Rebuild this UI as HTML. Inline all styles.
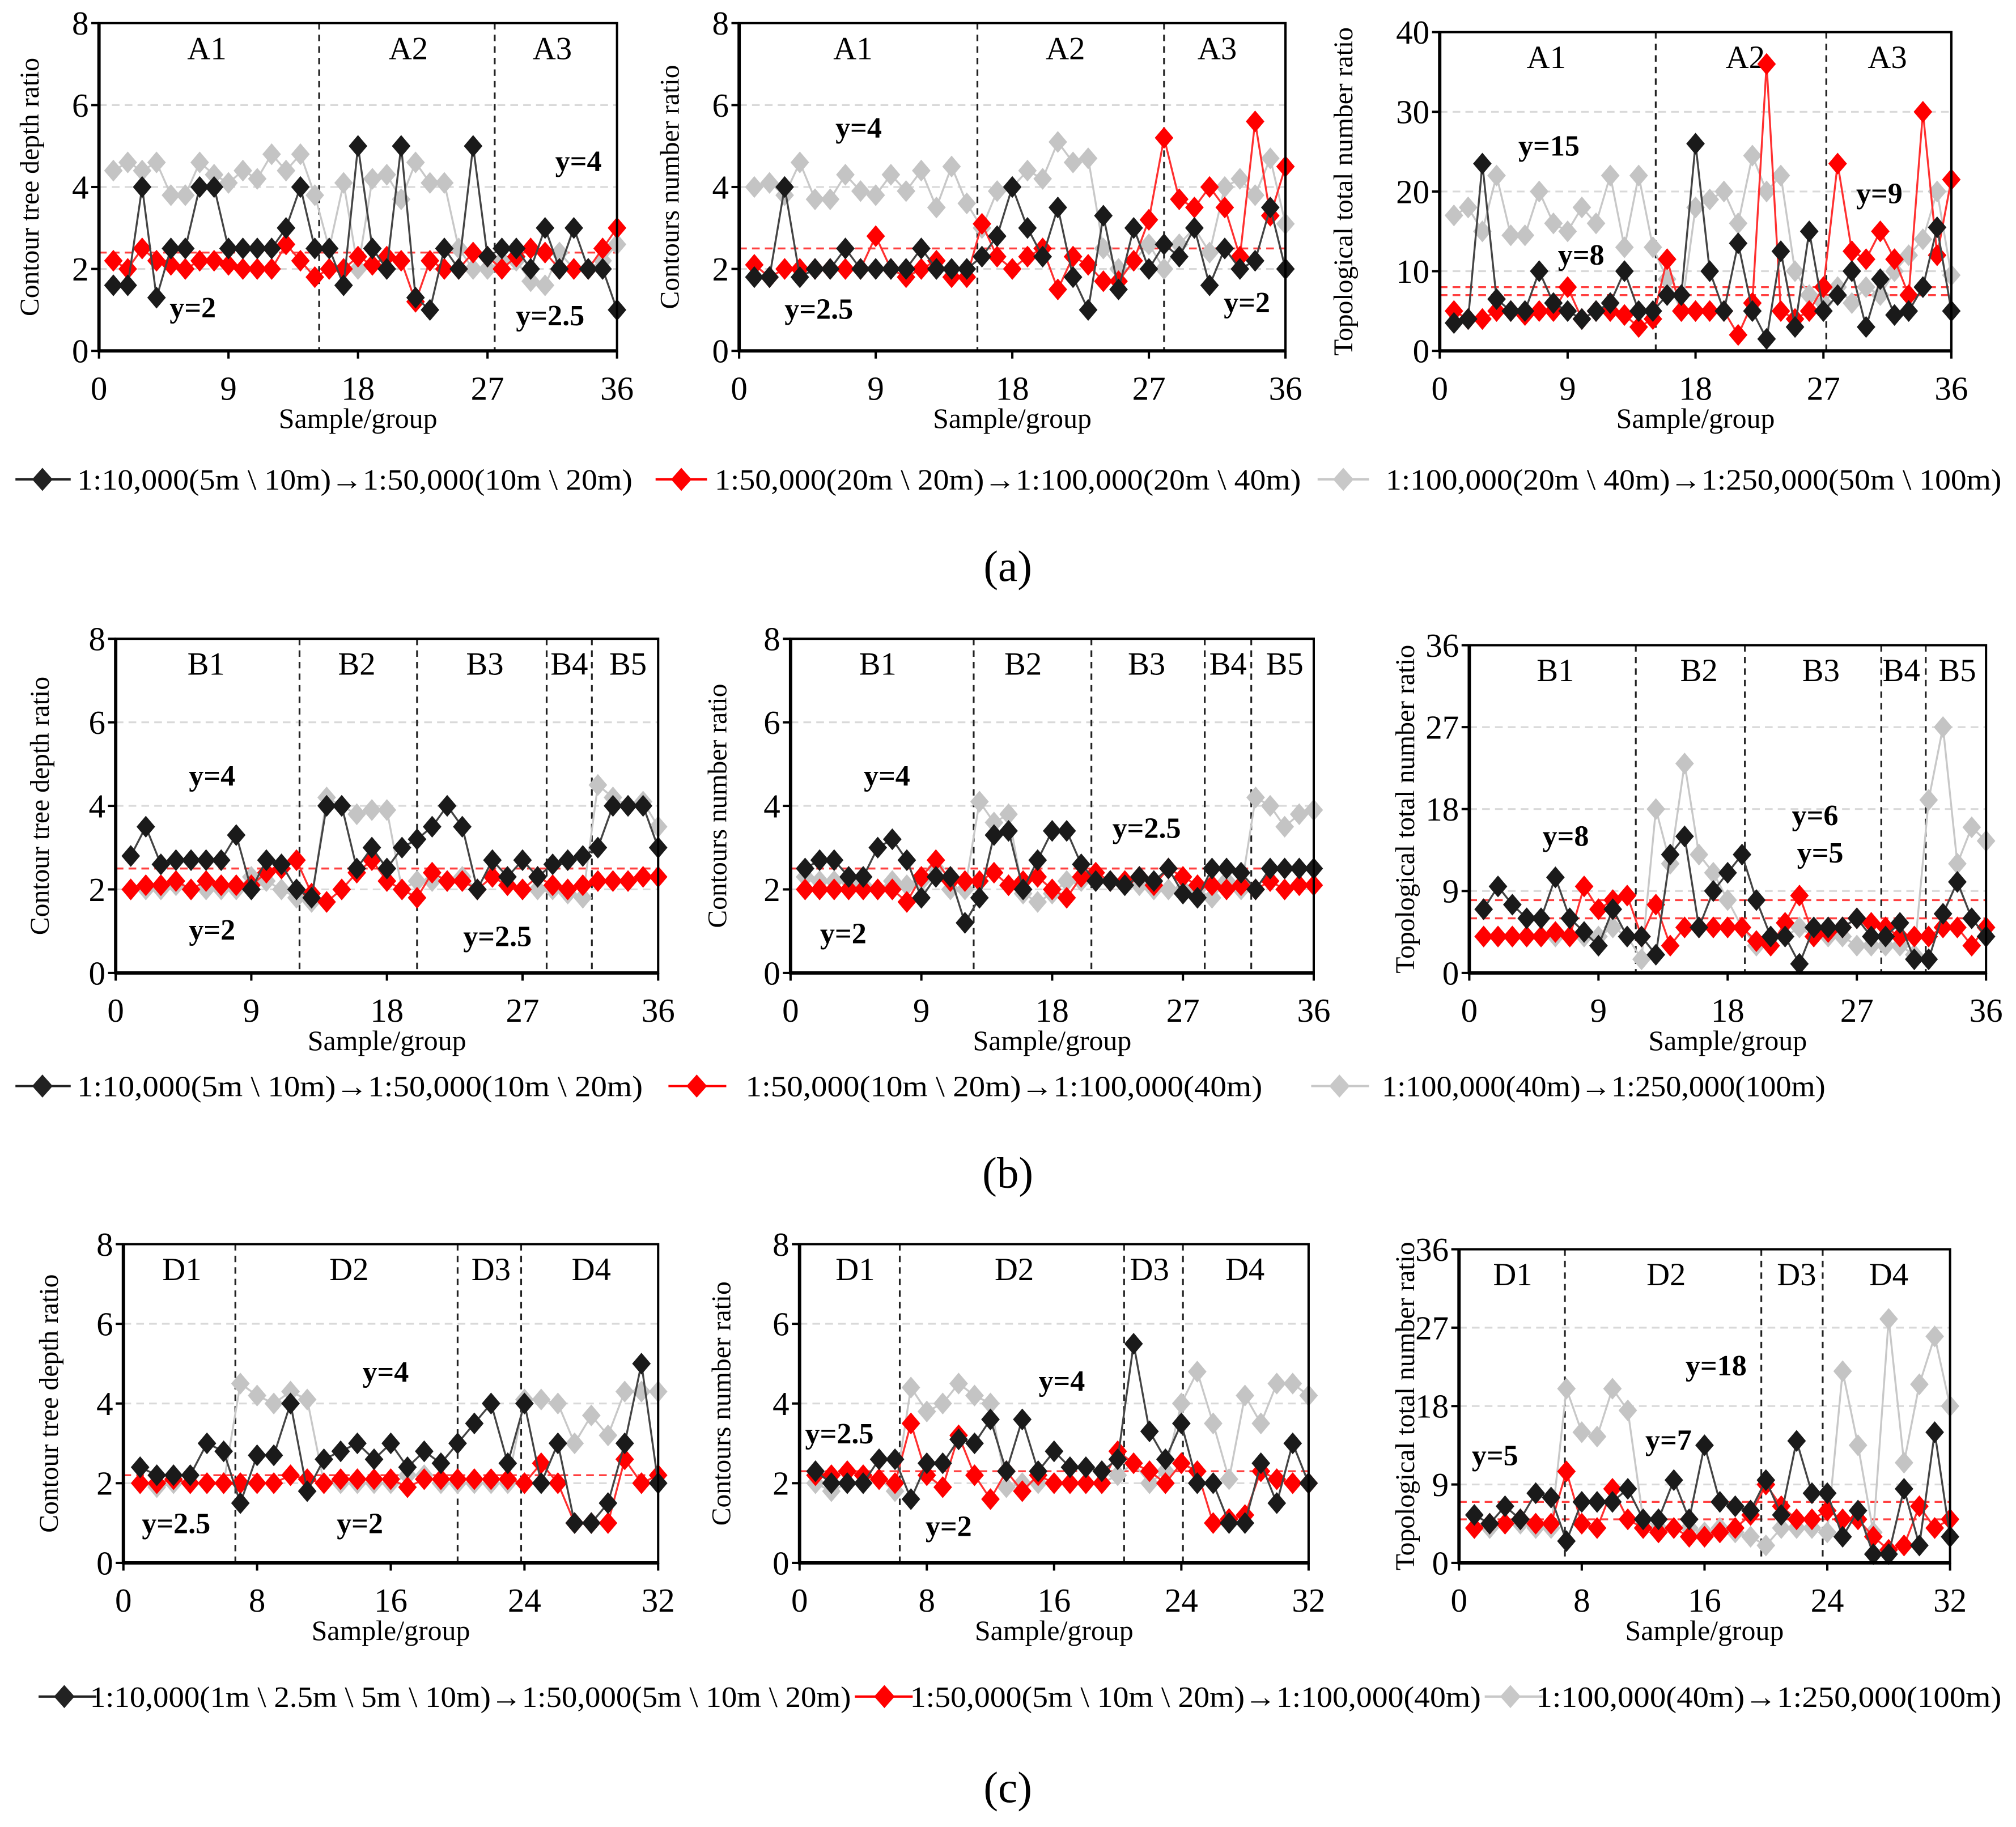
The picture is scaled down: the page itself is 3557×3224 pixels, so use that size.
<!DOCTYPE html>
<html><head><meta charset="utf-8">
<style>
html,body{margin:0;padding:0;background:#fff;}
svg{display:block;}
text{font-family:"Liberation Serif",serif;}
</style></head>
<body>
<svg id="fig" width="3557" height="3224" viewBox="0 0 1568.3 1421.5" preserveAspectRatio="none" xmlns="http://www.w3.org/2000/svg"></svg>
<script>
// ---- data ----
const xA = Array.from({length:36},(_,i)=>i+1);
const xC = Array.from({length:32},(_,i)=>i+1);
const a1Black=[1.6,1.6,4,1.3,2.5,2.5,4,4,2.5,2.5,2.5,2.5,3,4,2.5,2.5,1.6,5,2.5,2,5,1.3,1,2.5,2,5,2.3,2.5,2.5,2,3,2,3,2,2,1];
const a1Red=[2.2,2,2.5,2.2,2.1,2,2.2,2.2,2.1,2,2,2,2.6,2.2,1.8,2,2,2.3,2.1,2.3,2.2,1.2,2.2,2,2,2.4,2.3,2,2.3,2.5,2.4,2,2,2,2.5,3];
const a1Gray=[4.4,4.6,4.4,4.6,3.8,3.8,4.6,4.3,4.1,4.4,4.2,4.8,4.4,4.8,3.8,2.5,4.1,2,4.2,4.3,3.7,4.6,4.1,4.1,2.5,2,2,2.2,2.2,1.7,1.6,2.4,2,2,2.2,2.6];
const a2Black=[1.8,1.8,4,1.8,2,2,2.5,2,2,2,2,2.5,2,2,2,2.3,2.8,4,3,2.3,3.5,1.8,1,3.3,1.5,3,2,2.6,2.3,3,1.6,2.5,2,2.2,3.5,2];
const a2Red=[2.1,1.8,2,2,2,2,2,2,2.8,2,1.8,2,2.2,1.8,1.8,3.1,2.3,2,2.3,2.5,1.5,2.3,2.1,1.7,1.7,2.2,3.2,5.2,3.7,3.5,4,3.5,2.3,5.6,3.3,4.5];
const a2Gray=[4,4.1,3.8,4.6,3.7,3.7,4.3,3.9,3.8,4.3,3.9,4.4,3.5,4.5,3.6,3,3.9,4,4.4,4.2,5.1,4.6,4.7,2.5,2,2.2,2.6,2,2.6,3,2.4,4,4.2,3.8,4.7,3.1];
const a3Black=[3.5,4,23.5,6.5,5,5,10,6,5,4,5,6,10,5,5,7,7,26,10,5,13.5,5,1.5,12.5,3,15,5,7,10,3,9,4.5,5,8,15.5,5];
const a3Red=[5,4,4,5,5,4.5,5,5,8,4,5,5,4.5,3,4,11.5,5,5,5,5,2,6,36,5,4,5,8,23.5,12.5,11.5,15,11.5,7,30,12,21.5];
const a3Gray=[17,18,15,22,14.5,14.5,20,16,15,18,16,22,13,22,13,9,5,18,19,20,16,24.5,20,22,10,7,6,8,6,8,7,10,12,14,20,9.5];
const b1Black=[2.8,3.5,2.6,2.7,2.7,2.7,2.7,3.3,2,2.7,2.6,2,1.8,4,4,2.5,3,2.5,3,3.2,3.5,4,3.5,2,2.7,2.3,2.7,2.3,2.6,2.7,2.8,3,4,4,4,3];
const b1Red=[2,2.1,2.1,2.2,2,2.2,2.1,2.1,2.1,2.4,2.5,2.7,1.9,1.7,2,2.4,2.7,2.2,2,1.8,2.4,2.2,2.2,2,2.3,2.1,2,2.3,2.1,2,2.1,2.2,2.2,2.2,2.3,2.3];
const b1Gray=[2,2,2,2.1,2,2,2,2,2.3,2.2,2,1.8,1.7,4.2,4,3.8,3.9,3.9,2,2.2,2.2,2.2,2.3,2,2.3,2.1,2,2,2,1.9,1.8,4.5,4.2,4,4.1,3.5];
const b2Black=[2.5,2.7,2.7,2.3,2.3,3,3.2,2.7,1.8,2.3,2.3,1.2,1.8,3.3,3.4,2,2.7,3.4,3.4,2.6,2.2,2.2,2.1,2.3,2.2,2.5,1.9,1.8,2.5,2.5,2.4,2,2.5,2.5,2.5,2.5];
const b2Red=[2,2,2,2,2,2,2,1.7,2.3,2.7,2.2,2.2,2.2,2.4,2.1,2.2,2.3,2,1.8,2.3,2.4,2.2,2.2,2.3,2.1,2.5,2.3,2.1,2.1,2,2.1,2,2.2,2,2.1,2.1];
const b2Gray=[2.3,2.2,2.2,2.2,2.1,2,2.2,2.1,2.2,2.5,2,2,4.1,3.6,3.8,1.9,1.7,1.9,2.2,2.2,2.2,2.2,2.2,2.1,2,2,2,2,1.8,2.2,2,4.2,4,3.5,3.8,3.9];
const b3Black=[7,9.5,7.5,6,6,10.5,6,4.5,3,7,4,4,2,13,15,5,9,11,13,8,4,4,1,5,5,5,6,4,4,5.5,1.5,1.5,6.5,10,6,4];
const b3Red=[4,4,4,4,4,4.5,4,9.5,7,8,8.5,4,7.5,3,5,5,5,5,5,3.5,3,5.5,8.5,4,4.5,5,6,5.5,5,4,4,4,5,5,3,5];
const b3Gray=[4,4,4,4,4,4,4,4,4,5,4,1.5,18,12,23,13,11,8,5,3,4,4,5,4,4,4,3,3,3,3,2,19,27,12,16,14.5];
const c1Black=[2.4,2.2,2.2,2.2,3,2.8,1.5,2.7,2.7,4,1.8,2.6,2.8,3,2.6,3,2.4,2.8,2.5,3,3.5,4,2.5,4,2,3,1,1,1.5,3,5,2];
const c1Red=[2,2,2.1,2,2,2,2,2,2,2.2,2.1,2,2.1,2.1,2.1,2.1,1.9,2.1,2.1,2.1,2.1,2.1,2.1,2,2.5,2,1,1,1,2.6,2,2.2];
const c1Gray=[2,1.9,2,2,2,2,4.5,4.2,4,4.3,4.1,2,2,2,2,2,2.2,2.2,2,2,2,2,2,4.1,4.1,4,3,3.7,3.2,4.3,4.3,4.3];
const c2Black=[2.3,2,2,2,2.6,2.6,1.6,2.5,2.5,3.1,3,3.6,2.3,3.6,2.3,2.8,2.4,2.4,2.3,2.6,5.5,3.3,2.6,3.5,2,2,1,1,2.5,1.5,3,2];
const c2Red=[2.2,2.2,2.3,2.2,2.1,2,3.5,2.2,1.9,3.2,2.2,1.6,2.3,1.8,2.2,2,2,2,2,2.8,2.5,2.3,2,2.5,2.3,1,1.1,1.2,2.3,2.1,2,2];
const c2Gray=[2,1.8,2,2,2.1,1.8,4.4,3.8,4,4.5,4.2,4,1.9,2,2,2,2,2,2,2.2,2.5,2,2.3,4,4.8,3.5,2.1,4.2,3.5,4.5,4.5,4.2];
const c3Black=[5.5,4.5,6.5,5,8,7.5,2.5,7,7,7,8.5,5,5,9.5,5,13.5,7,6.5,6,9.5,5.5,14,8,8,3,6,1,1,8.5,2,15,3];
const c3Red=[4,4.5,4.5,5,4.5,4.5,10.5,4.5,4,8.5,5,4,3.5,4,3,3,3.5,4,5.5,9,6.5,5,5,6,5,5,3,1.5,2,6.5,4,5];
const c3Gray=[4,4,4.5,4.5,4,4,20,15,14.5,20,17.5,5,4,4,4,3.5,4,3.5,3,2,4,4,4,3.5,22,13.5,3.5,28,11.5,20.5,26,18];
const ticks8=[0,2,4,6,8], ticks40=[0,10,20,30,40], ticks36=[0,9,18,27,36];
const xticks36=[0,9,18,27,36], xticks32=[0,8,16,24,32];

const NS="http://www.w3.org/2000/svg";
const svg=document.getElementById('fig');
function mk(tag,attrs,parent,txt){const e=document.createElementNS(NS,tag);for(const k in attrs)e.setAttribute(k,attrs[k]);if(txt!==undefined)e.textContent=txt;(parent||svg).appendChild(e);return e;}

function panel(cfg){
  const g=mk('g',{});
  
  
  const sx=v=>cfg.x0+(v/cfg.xmax)*(cfg.x1-cfg.x0);
  const sy=v=>cfg.yb-(v/cfg.ymax)*(cfg.yb-cfg.yt);
  cfg.yticks.forEach(t=>{if(t>0&&t<cfg.ymax){const l=mk('line',{x1:cfg.x0,x2:cfg.x1,y1:sy(t),y2:sy(t),stroke:'#d9d9d9','stroke-width':1.4,'stroke-dasharray':'6,4'},g);
    }});
  cfg.thr.forEach(t=>{const l=mk('line',{x1:cfg.x0,x2:cfg.x1,y1:sy(t),y2:sy(t),stroke:'#ff4040','stroke-width':1.5,'stroke-dasharray':'6,4'},g);
    });
  cfg.div.forEach(d=>{const l=mk('line',{x1:sx(d),x2:sx(d),y1:cfg.yt,y2:cfg.yb,stroke:'#222','stroke-width':1.4,'stroke-dasharray':'5,4'},g);
    });
  cfg.regions.forEach(r=>{const t=mk('text',{x:sx(r[1]),y:cfg.yt+28,'font-size':25,'text-anchor':'middle'},g,r[0]);
    });
  const ser=[[cfg.gray,'#c4c4c4','#c8c8c8','gray'],[cfg.red,'#ff0000','#ff3030','red'],[cfg.black,'#1a1a1a','#444','black']];
  ser.forEach(s=>{
    const xs=cfg.xs;
    const pts=s[0].map((v,i)=>sx(xs[i])+','+sy(v)).join(' ');
    const pl=mk('polyline',{points:pts,fill:'none',stroke:s[2],'stroke-width':1.5},g);
    
    s[0].forEach((v,i)=>{const cx=sx(xs[i]),cy=sy(v),r=8.5;
      const p=mk('polygon',{points:`${cx},${cy-r} ${cx+r*0.85},${cy} ${cx},${cy+r} ${cx-r*0.85},${cy}`,fill:s[1]},g);
      });
  });
  const fr=mk('rect',{x:cfg.x0,y:cfg.yt,width:cfg.x1-cfg.x0,height:cfg.yb-cfg.yt,fill:'none',stroke:'#000','stroke-width':1.8},g);
  
  mk('line',{x1:cfg.x0,x2:cfg.x0,y1:cfg.yt,y2:cfg.yb+1,stroke:'#000','stroke-width':2.6},g);
  mk('line',{x1:cfg.x0-1,x2:cfg.x1,y1:cfg.yb,y2:cfg.yb,stroke:'#000','stroke-width':2.6},g);
  cfg.yticks.forEach(t=>{mk('line',{x1:cfg.x0-6,x2:cfg.x0,y1:sy(t),y2:sy(t),stroke:'#000','stroke-width':1.8},g);
    const tx=mk('text',{x:cfg.x0-8,y:sy(t)+9,'font-size':26,'text-anchor':'end'},g,String(t));
    });
  cfg.xticks.forEach(t=>{mk('line',{x1:sx(t),x2:sx(t),y1:cfg.yb,y2:cfg.yb+6,stroke:'#000','stroke-width':1.8},g);
    const tx=mk('text',{x:sx(t),y:cfg.yb+38,'font-size':26,'text-anchor':'middle'},g,String(t));
    });
  const xt=mk('text',{x:(cfg.x0+cfg.x1)/2,y:cfg.yb+60,'font-size':22,'text-anchor':'middle'},g,'Sample/group');
  
  const my=(cfg.yt+cfg.yb)/2;
  const yt=mk('text',{x:cfg.ytx,y:my,'font-size':21,'text-anchor':'middle',transform:`rotate(-90 ${cfg.ytx} ${my})`},g,cfg.ytitle);
  
  cfg.ann.forEach(a=>{const t=mk('text',{x:a[1],y:a[2],'font-size':23,'font-weight':'bold','text-anchor':'middle'},g,a[0]);
    });
}
const T1='Contour tree depth ratio',T2='Contours number ratio',T3='Topological total number ratio';
const rA=[['A1',7.5],['A2',21.5],['A3',31.5]], dA=[15.3,27.5];
const rB=[['B1',6],['B2',16],['B3',24.5],['B4',30.1],['B5',34]], dB=[12.2,20,28.6,31.6];
const rC=[['D1',3.5],['D2',13.5],['D3',22],['D4',28]], dC=[6.7,20,23.8];
panel({name:'panel-a1',x0:77,x1:480,yt:18,yb:273,xmax:36,ymax:8,xs:xA,black:a1Black,red:a1Red,gray:a1Gray,yticks:ticks8,xticks:xticks36,thr:[2.4],div:dA,regions:rA,ytitle:T1,ytx:30,ann:[['y=2',150,247],['y=2.5',428,253],['y=4',450,133]]});
panel({name:'panel-a2',x0:575,x1:1000,yt:18,yb:273,xmax:36,ymax:8,xs:xA,black:a2Black,red:a2Red,gray:a2Gray,yticks:ticks8,xticks:xticks36,thr:[2.5],div:[15.7,28],regions:rA,ytitle:T2,ytx:528,ann:[['y=2.5',637,248],['y=4',668,107],['y=2',970,243]]});
panel({name:'panel-a3',x0:1120,x1:1518,yt:25,yb:273,xmax:36,ymax:40,xs:xA,black:a3Black,red:a3Red,gray:a3Gray,yticks:ticks40,xticks:xticks36,thr:[7,8],div:[15.2,27.2],regions:rA,ytitle:T3,ytx:1052,ann:[['y=15',1205,121],['y=8',1230,206],['y=9',1462,158]]});
panel({name:'panel-b1',x0:90,x1:512,yt:497,yb:757,xmax:36,ymax:8,xs:xA,black:b1Black,red:b1Red,gray:b1Gray,yticks:ticks8,xticks:xticks36,thr:[2.5],div:dB,regions:rB,ytitle:T1,ytx:38,ann:[['y=4',165,611],['y=2',165,731],['y=2.5',387,736]]});
panel({name:'panel-b2',x0:615,x1:1022,yt:497,yb:757,xmax:36,ymax:8,xs:xA,black:b2Black,red:b2Red,gray:b2Gray,yticks:ticks8,xticks:xticks36,thr:[2.5],div:[12.6,20.7,28.5,31.7],regions:rB,ytitle:T2,ytx:565,ann:[['y=4',690,611],['y=2',656,734],['y=2.5',892,652]]});
panel({name:'panel-b3',x0:1143,x1:1545,yt:502,yb:757,xmax:36,ymax:36,xs:xA,black:b3Black,red:b3Red,gray:b3Gray,yticks:ticks36,xticks:xticks36,thr:[8,6],div:[11.6,19.2,28.7,31.8],regions:rB,ytitle:T3,ytx:1100,ann:[['y=8',1218,658],['y=6',1412,642],['y=5',1416,671]]});
panel({name:'panel-c1',x0:96,x1:512,yt:968,yb:1216,xmax:32,ymax:8,xs:xC,black:c1Black,red:c1Red,gray:c1Gray,yticks:ticks8,xticks:xticks32,thr:[2.2],div:dC,regions:rC,ytitle:T1,ytx:45,ann:[['y=4',300,1075],['y=2.5',137,1193],['y=2',280,1193]]});
panel({name:'panel-c2',x0:622,x1:1018,yt:968,yb:1216,xmax:32,ymax:8,xs:xC,black:c2Black,red:c2Red,gray:c2Gray,yticks:ticks8,xticks:xticks32,thr:[2.3],div:[6.3,20.4,24.1],regions:rC,ytitle:T2,ytx:568,ann:[['y=2.5',653,1123],['y=4',826,1082],['y=2',738,1195]]});
panel({name:'panel-c3',x0:1135,x1:1517,yt:972,yb:1216,xmax:32,ymax:36,xs:xC,black:c3Black,red:c3Red,gray:c3Gray,yticks:ticks36,xticks:xticks32,thr:[7,5],div:[6.9,19.7,23.7],regions:rC,ytitle:T3,ytx:1100,ann:[['y=5',1163,1140],['y=7',1298,1128],['y=18',1335,1070]]});

function legend(y,items,nm){
  const g=mk('g',{});
  items.forEach(it=>{
    const [c,lx1,lx2,mx,tx,tend,label]=it;
    mk('line',{x1:lx1,x2:lx2,y1:y,y2:y,stroke:c,'stroke-width':1.8},g);
    const p=mk('polygon',{points:`${mx},${y-9} ${mx+8},${y} ${mx},${y+9} ${mx-8},${y}`,fill:c},g);
    
    const t=mk('text',{x:tx,y:y+8,'font-size':23,textLength:tend-tx,lengthAdjust:'spacingAndGlyphs'},g,label);
    
  });
}
legend(373,[['#222',12,55,33,60,492,'1:10,000(5m \\ 10m)→1:50,000(10m \\ 20m)'],
 ['#ff0000',510,550,530,556,1012,'1:50,000(20m \\ 20m)→1:100,000(20m \\ 40m)'],
 ['#c8c8c8',1025,1065,1045,1078,1557,'1:100,000(20m \\ 40m)→1:250,000(50m \\ 100m)']],'legend-a');
legend(845,[['#222',12,55,33,60,500,'1:10,000(5m \\ 10m)→1:50,000(10m \\ 20m)'],
 ['#ff0000',520,565,542,580,982,'1:50,000(10m \\ 20m)→1:100,000(40m)'],
 ['#c8c8c8',1020,1065,1042,1075,1420,'1:100,000(40m)→1:250,000(100m)']],'legend-b');
legend(1320,[['#222',30,75,50,70,662,'1:10,000(1m \\ 2.5m \\ 5m \\ 10m)→1:50,000(5m \\ 10m \\ 20m)'],
 ['#ff0000',665,710,688,708,1152,'1:50,000(5m \\ 10m \\ 20m)→1:100,000(40m)'],
 ['#c8c8c8',1155,1200,1175,1195,1557,'1:100,000(40m)→1:250,000(100m)']],'legend-c');
[['(a)',440],['(b)',912],['(c)',1390]].forEach(s=>{const t=mk('text',{x:784,y:s[1]+12,'font-size':34,'text-anchor':'middle'},svg,s[0]);
  });
</script>
</body></html>
